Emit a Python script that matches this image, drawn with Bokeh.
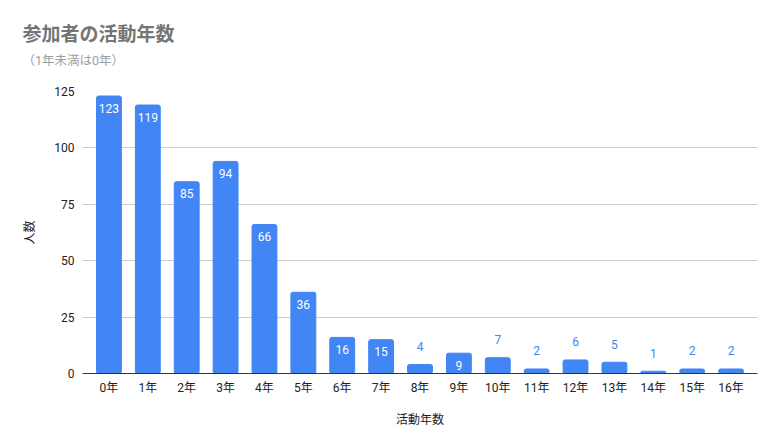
from bokeh.plotting import figure
from bokeh.models import ColumnDataSource, FactorRange, Range1d, Title, FixedTicker
from bokeh.core.properties import value
from bokeh.embed import file_html
from bokeh.resources import INLINE

categories = ["0年", "1年", "2年", "3年", "4年", "5年", "6年", "7年", "8年",
              "9年", "10年", "11年", "12年", "13年", "14年", "15年", "16年"]
counts = [123, 119, 85, 94, 66, 36, 16, 15, 4, 9, 7, 2, 6, 5, 1, 2, 2]
y_ticks = [0, 25, 50, 75, 100, 125]

title_text = "参加者の活動年数"
subtitle_text = "（1年未満は0年）"
x_label = "活動年数"
y_label = "人数"

FONT = "Roboto, 'Noto Sans CJK JP'"
BAR = "#4285f4"

src = ColumnDataSource(dict(cat=categories, n=counts))
inside = [i for i, c in enumerate(counts) if c >= 9]
outside = [i for i, c in enumerate(counts) if c < 9]
src_in = ColumnDataSource(dict(cat=[categories[i] for i in inside],
                               n=[counts[i] for i in inside],
                               lbl=[str(counts[i]) for i in inside]))
src_out = ColumnDataSource(dict(cat=[categories[i] for i in outside],
                                n=[counts[i] for i in outside],
                                lbl=[str(counts[i]) for i in outside]))

p = figure(width=763, height=432, output_backend="svg", toolbar_location=None,
           x_range=FactorRange(factors=categories, range_padding=0.18,
                               range_padding_units="absolute"),
           y_range=Range1d(0, 125), title=None,
           min_border_left=82, min_border_right=6, min_border_top=91,
           min_border_bottom=59)
p.outline_line_color = None

p.vbar(x="cat", top="n", width=0.64, source=src, color=BAR, border_radius=2)

p.text(x="cat", y="n", text="lbl", source=src_in, text_color="white",
       text_align="center", text_baseline="middle", y_offset=12,
       text_font=value(FONT), text_font_size="12px")
p.text(x="cat", y="n", text="lbl", source=src_out, text_color=BAR,
       text_align="center", text_baseline="middle", y_offset=-18,
       text_font=value(FONT), text_font_size="12px")

spacer = Title(text=" ", align="left", standoff=20, text_font_size="2px",
               text_color="#ffffff")
sub = Title(text=subtitle_text, align="left", offset=-60, standoff=0,
            text_font=FONT, text_font_size="12.5px", text_font_style="normal",
            text_color="#9e9e9e")
ttl = Title(text=title_text, align="left", offset=-60, standoff=10,
            text_font=FONT, text_font_size="19px", text_font_style="bold",
            text_color="#757575")
p.add_layout(spacer, "above")
p.add_layout(sub, "above")
p.add_layout(ttl, "above")

p.xgrid.grid_line_color = None
p.ygrid.grid_line_color = "#cccccc"
p.yaxis.ticker = FixedTicker(ticks=y_ticks)

p.xaxis.axis_line_color = "#333333"
p.xaxis.major_tick_line_color = None
p.xaxis.minor_tick_line_color = None
p.xaxis.major_label_standoff = 1
p.xaxis.major_label_text_font = FONT
p.xaxis.major_label_text_font_size = "12px"
p.xaxis.major_label_text_color = "#222222"
p.xaxis.axis_label = x_label
p.xaxis.axis_label_standoff = 15
p.xaxis.axis_label_text_font = FONT
p.xaxis.axis_label_text_font_size = "12px"
p.xaxis.axis_label_text_font_style = "normal"
p.xaxis.axis_label_text_color = "#222222"

p.yaxis.axis_line_color = None
p.yaxis.major_tick_line_color = None
p.yaxis.minor_tick_line_color = None
p.yaxis.major_label_standoff = 2
p.yaxis.major_label_text_font = FONT
p.yaxis.major_label_text_font_size = "12px"
p.yaxis.major_label_text_color = "#222222"
p.yaxis.axis_label = y_label
p.yaxis.axis_label_standoff = 14
p.yaxis.axis_label_text_font = FONT
p.yaxis.axis_label_text_font_size = "12px"
p.yaxis.axis_label_text_font_style = "normal"
p.yaxis.axis_label_text_color = "#222222"

open("out.html", "w").write(file_html(p, INLINE))
